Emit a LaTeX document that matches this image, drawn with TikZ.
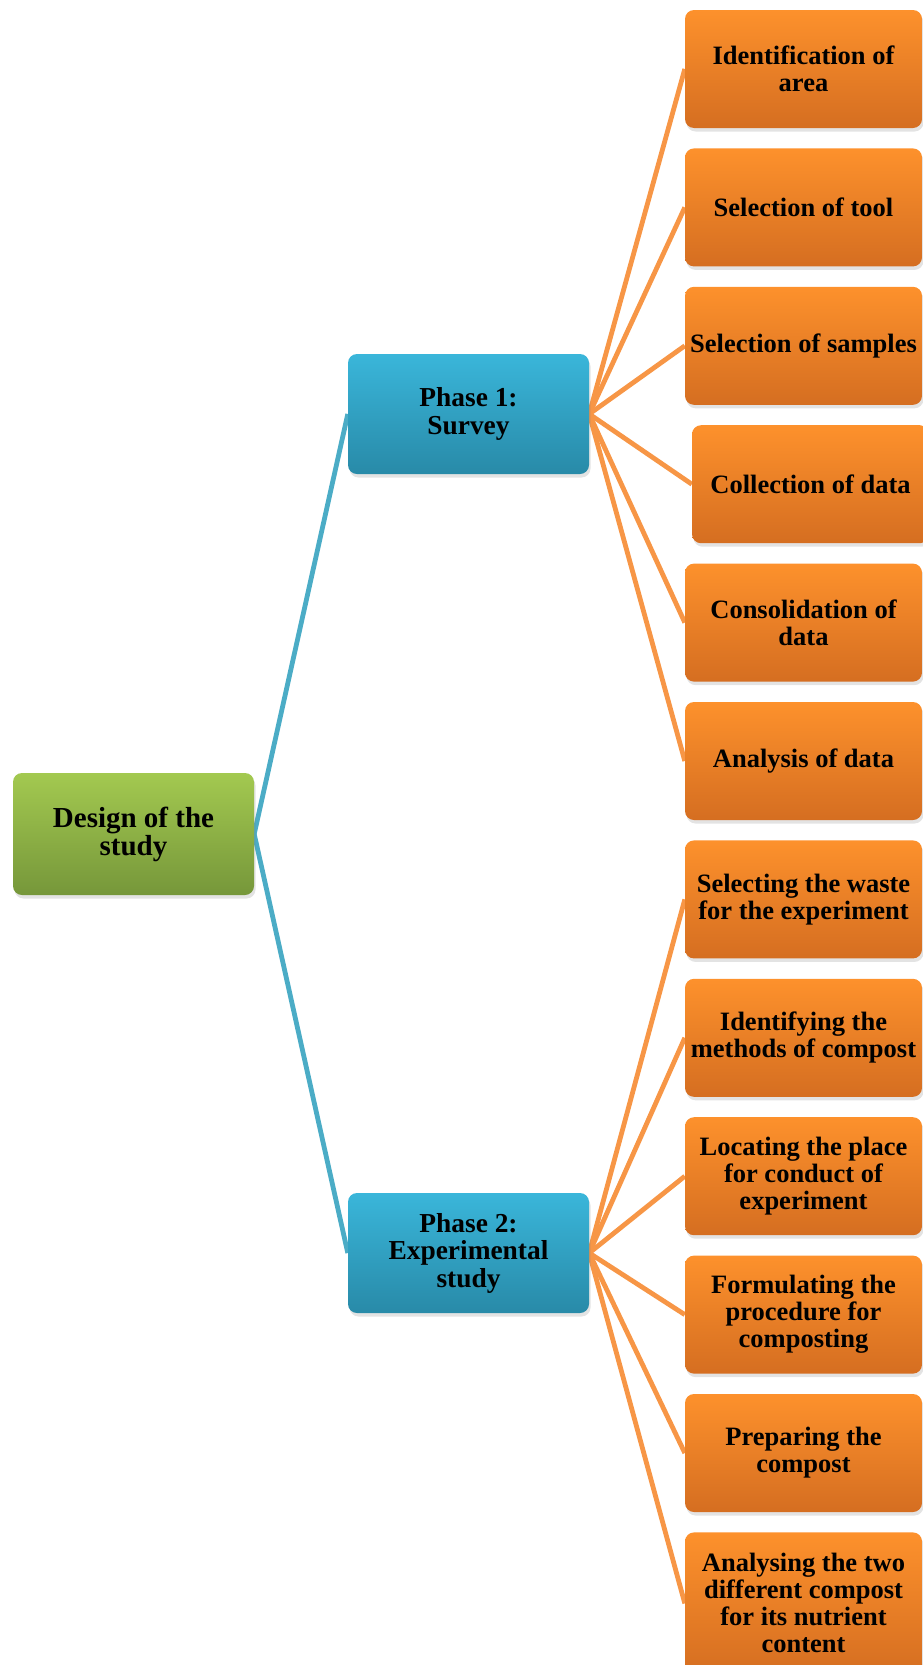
\documentclass[tikz,border=0pt]{standalone}
\usepackage{fontspec}
\setmainfont{Liberation Serif}
\usetikzlibrary{positioning, shadows, backgrounds}

\definecolor{greentop}{RGB}{163,201,80}
\definecolor{greenbot}{RGB}{118,151,58}
\definecolor{bluetop}{RGB}{58,182,218}
\definecolor{bluebot}{RGB}{40,138,168}
\definecolor{orangetop}{RGB}{253,145,44}
\definecolor{orangebot}{RGB}{213,110,33}
\definecolor{linkblue}{RGB}{75,172,198}
\definecolor{linkorange}{RGB}{247,150,70}

\begin{document}
\begin{tikzpicture}[x=1pt, y=1pt, node distance=20pt]
      \tikzset{
  box/.style={
    rectangle, rounded corners=9pt, align=center,
    inner xsep=2pt, inner ysep=4pt,
    drop shadow={shadow xshift=1.5pt, shadow yshift=-3.5pt, opacity=0.22}
  },
  rootbox/.style ={box, top color=greentop,  bottom color=greenbot,
                   minimum width=241pt, minimum height=122pt,
                   font=\fontsize{29}{28}\selectfont\bfseries},
  phasebox/.style={box, top color=bluetop,   bottom color=bluebot,
                   minimum width=241pt, minimum height=120pt,
                   font=\fontsize{27.4}{27.5}\selectfont\bfseries},
  leaf/.style    ={box, top color=orangetop, bottom color=orangebot,
                   minimum width=237pt, minimum height=118pt,
                   font=\fontsize{26.5}{27}\selectfont\bfseries},
  bluelink/.style  ={draw=linkblue,   line width=4.8pt},
  orangelink/.style={draw=linkorange, line width=4.8pt},
}

\useasboundingbox (0,0) rectangle (923,-1665);

%% ---- ROOT AND PHASES ----
\node[rootbox]  (design) at (133.5,-834)  {Design of the\\study};
\node[phasebox] (survey) at (468.5,-414)  {Phase 1:\\Survey};
\node[phasebox] (expt)   at (468.5,-1253) {Phase 2:\\Experimental\\study};

%% ---- PHASE 1 STEPS ----
\node[leaf] (idarea) at (803.5,-69) {Identification of\\area};
\node[leaf, below=of idarea]  (seltool)  {Selection of tool};
\node[leaf, below=of seltool] (selsamp)  {Selection of samples};
\node[leaf, below=of selsamp, xshift=7pt]  (coldata)  {Collection of data};
\node[leaf, below=of coldata, xshift=-7pt] (consdata) {Consolidation of\\data};
\node[leaf, below=of consdata] (anadata) {Analysis of data};

%% ---- PHASE 2 STEPS ----
\node[leaf, below=of anadata]  (selwaste)  {Selecting the waste\\for the experiment};
\node[leaf, below=of selwaste] (idmethod)  {Identifying the\\methods of compost};
\node[leaf, below=of idmethod] (locplace)  {Locating the place\\for conduct of\\experiment};
\node[leaf, below=of locplace] (formproc)  {Formulating the\\procedure for\\composting};
\node[leaf, below=of formproc] (prepcomp)  {Preparing the\\compost};
\node[leaf, below=of prepcomp, minimum height=142pt] (anacomp)
  {Analysing the two\\different compost\\for its nutrient\\content};

%% ---- LINKS ----
\begin{scope}[on background layer]
  \draw[bluelink] (design.east) -- (survey.west);
  \draw[bluelink] (design.east) -- (expt.west);

  \foreach \step in {idarea, seltool, selsamp, coldata, consdata, anadata}
    \draw[orangelink] (survey.east) -- (\step.west);
  \foreach \step in {selwaste, idmethod, locplace, formproc, prepcomp, anacomp}
    \draw[orangelink] (expt.east) -- (\step.west);
\end{scope}

    \end{tikzpicture}
\end{document}
